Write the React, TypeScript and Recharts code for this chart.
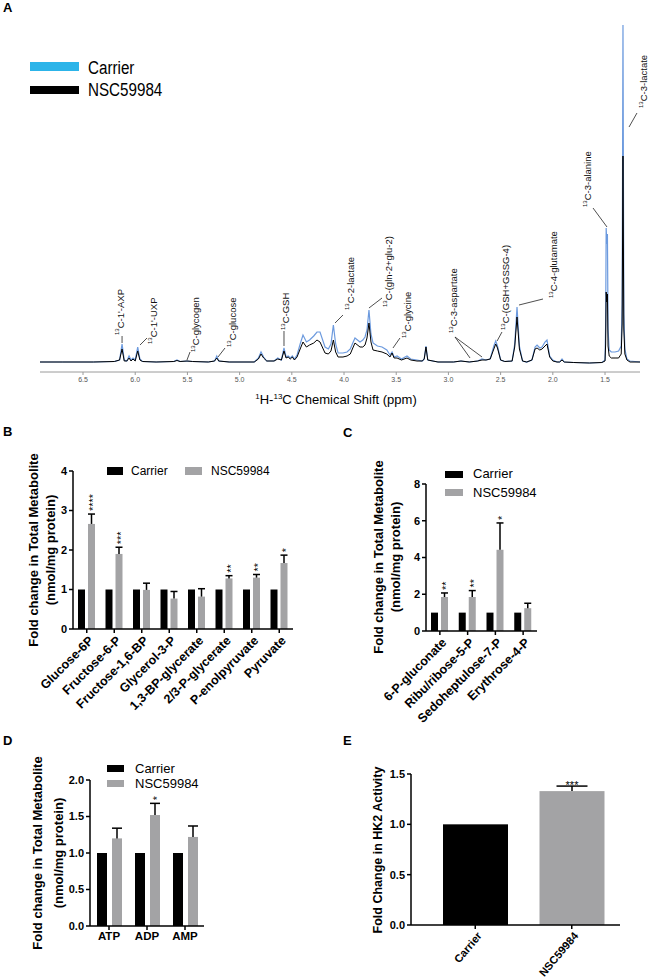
import React from "react";
import {
  LineChart,
  Line,
  BarChart,
  Bar,
  Cell,
  XAxis,
  YAxis,
  ReferenceDot,
  ReferenceLine,
} from "recharts";

const FONT = '"Liberation Sans", Arial, Helvetica, sans-serif';
const INK = "#000000";
const GREY = "#a3a3a5";
const CARRIER_TRACE = "#6c9ade";
const CARRIER_KEY = "#2cb4e9";

// ---- A: 1H-13C spectrum, [ppm, carrier, NSC59984] in arbitrary intensity units
const spectrumRows: [number, number, number][] = [
  [6.912, 2, 2], [6.7, 2, 2], [6.4, 2, 2], [6.2, 2.5, 2.5], [6.15, 4, 4],
  [6.126, 20, 15], [6.105, 4, 3], [6.08, 3, 3], [6.059, 8, 6], [6.04, 4, 3],
  [6.021, 6, 5], [6.0, 4, 3], [5.976, 17, 13], [5.955, 5, 4], [5.93, 2.5, 2.5],
  [5.8, 2, 2], [5.63, 2.5, 2.5], [5.6, 4, 3.5], [5.57, 2.5, 2.5], [5.504, 3, 3],
  [5.45, 2.5, 2.5], [5.3, 2, 2], [5.24, 3, 3], [5.219, 8, 6], [5.2, 3, 3],
  [5.1, 2, 2], [4.86, 2, 2], [4.82, 6, 5], [4.795, 12, 10], [4.77, 7, 6],
  [4.74, 3, 3], [4.67, 3, 3], [4.635, 6, 5], [4.6, 4, 4], [4.575, 16, 13],
  [4.555, 7, 6], [4.535, 8, 7], [4.515, 6, 5], [4.495, 8, 7], [4.475, 5, 4],
  [4.45, 9, 7], [4.42, 20, 15], [4.393, 29, 22], [4.36, 22, 17], [4.33, 24, 19],
  [4.29, 28, 21], [4.259, 32, 24], [4.23, 32, 22], [4.182, 17, 11], [4.15, 15, 10],
  [4.125, 20, 13], [4.102, 39, 24], [4.08, 20, 12], [4.057, 11, 7], [4.01, 11, 7],
  [3.971, 12, 8], [3.94, 15, 10], [3.92, 20, 15], [3.895, 26, 21], [3.847, 22, 17],
  [3.82, 24, 17], [3.799, 27, 19], [3.78, 34, 26], [3.761, 54, 41], [3.742, 30, 22],
  [3.722, 21, 14], [3.68, 18, 13], [3.636, 17, 12], [3.59, 14, 10], [3.56, 9, 7],
  [3.54, 12, 11], [3.52, 7, 6], [3.492, 8, 6], [3.45, 5, 4], [3.397, 8, 6],
  [3.36, 5, 4], [3.301, 4, 3], [3.25, 3, 3], [3.232, 5, 5], [3.215, 18, 17],
  [3.198, 4, 4], [3.1, 2, 2], [2.95, 2, 2], [2.88, 3, 3], [2.8, 2, 2],
  [2.72, 3, 3], [2.678, 5, 4], [2.64, 4, 4], [2.6, 5, 5], [2.565, 18, 15],
  [2.547, 23, 20], [2.53, 18, 16], [2.5, 4, 4], [2.46, 2.5, 2.5], [2.39, 3, 3],
  [2.365, 20, 17], [2.343, 57, 47], [2.32, 18, 15], [2.29, 3, 3], [2.25, 2, 2],
  [2.2, 4, 4], [2.17, 17, 15], [2.151, 19, 16], [2.125, 16, 14], [2.103, 17, 15],
  [2.075, 22, 18], [2.056, 24, 20], [2.03, 8, 7], [2.0, 4, 3], [1.96, 2, 2],
  [1.935, 2, 2], [1.912, 5, 4], [1.89, 2, 2], [1.8, 1.5, 1.5], [1.65, 1, 1],
  [1.53, 1.5, 1.5], [1.5, 4, 3], [1.494, 40, 20], [1.489, 136, 72], [1.483, 120, 62],
  [1.477, 130, 70], [1.471, 35, 18], [1.46, 14, 8], [1.44, 12, 6], [1.404, 12, 6],
  [1.37, 13, 6], [1.345, 18, 10], [1.336, 60, 40], [1.328, 339, 208], [1.32, 50, 35],
  [1.31, 15, 10], [1.29, 5, 4], [1.261, 3, 2], [1.165, 2, 2],
];
const shiftTicks = [6.5, 6.0, 5.5, 5.0, 4.5, 4.0, 3.5, 3.0, 2.5, 2.0, 1.5];

// peak annotations: name (after the 13 superscript), label foot [ppm, height], leader [ppm, h, ppm, h]
const peakNames = [
  "C-1'-AXP", "C-1'-UXP", "C-glycogen", "C-glucose", "C-GSH", "C-2-lactate",
  "C-(gln-2+glu-2)", "C-glycine", "C-3-aspartate", "C-(GSH+GSSG-4)",
  "C-4-glutamate", "C-3-alanine", "C-3-lactate",
];
const peakLabelAt: [number, number][] = [
  [6.146, 29], [5.83, 20], [5.427, 12], [5.073, 17], [4.565, 34], [3.943, 54],
  [3.579, 57], [3.397, 26], [2.956, 31], [2.458, 34], [1.998, 66], [1.672, 157],
  [1.136, 256],
];
const peakLeaders: [number, number, number, number][] = [
  [6.126, 21, 6.126, 28], [5.954, 19, 5.887, 26], [5.504, 4, 5.475, 12],
  [5.207, 7, 5.14, 16], [4.575, 18, 4.575, 33], [4.086, 41, 4.01, 49],
  [3.761, 56, 3.636, 66], [3.531, 16, 3.464, 26], [2.793, 6, 2.937, 27],
  [2.678, 7, 2.937, 27], [2.534, 23, 2.487, 32], [2.324, 59, 2.094, 65],
  [1.481, 137, 1.615, 156], [1.27, 237, 1.194, 251],
];

// ---- B: glycolysis
const glycolysisNames = [
  "Glucose-6P", "Fructose-6-P", "Fructose-1,6-BP", "Glycerol-3-P",
  "1,3-BP-glycerate", "2/3-P-glycerate", "P-enolpyruvate", "Pyruvate",
];
const glycolysisCarrier = [1, 1, 1, 1, 1, 1, 1, 1];
const glycolysisNsc = [2.66, 1.9, 0.99, 0.77, 0.82, 1.28, 1.3, 1.67];
const glycolysisSem = [0.25, 0.17, 0.17, 0.18, 0.2, 0.07, 0.08, 0.2];
const glycolysisSig = ["****", "***", "", "", "", "**", "**", "*"];

// ---- C: pentose phosphate pathway
const pppNames = ["6-P-gluconate", "Ribu/ribose-5-P", "Sedoheptulose-7-P", "Erythrose-4-P"];
const pppCarrier = [1, 1, 1, 1];
const pppNsc = [1.85, 1.85, 4.42, 1.24];
const pppSem = [0.22, 0.35, 1.46, 0.27];
const pppSig = ["**", "**", "*", ""];

// ---- D: nucleotides
const nucNames = ["ATP", "ADP", "AMP"];
const nucCarrier = [1, 1, 1];
const nucNsc = [1.2, 1.52, 1.22];
const nucSem = [0.14, 0.16, 0.15];
const nucSig = ["", "*", ""];

// ---- E: HK2 activity
const hk2Groups = ["Carrier", "NSC59984"];
const hk2Activity = [1.0, 1.33];
const hk2Sem = [0, 0.05];
const hk2Sig = ["", "***"];

const spectrum = spectrumRows.map(([ppm, carrier, nsc]) => ({ ppm, carrier, nsc }));
const grouped = (names: string[], c: number[], n: number[], s: number[], sig: string[]) =>
  names.map((name, i) => ({ name, carrier: c[i], nsc: n[i], sem: s[i], sig: sig[i] }));
const glycolysis = grouped(glycolysisNames, glycolysisCarrier, glycolysisNsc, glycolysisSem, glycolysisSig);
const ppp = grouped(pppNames, pppCarrier, pppNsc, pppSem, pppSig);
const nucleotides = grouped(nucNames, nucCarrier, nucNsc, nucSem, nucSig);
const hk2 = hk2Groups.map((name, i) => ({ name, activity: hk2Activity[i], sem: hk2Sem[i], sig: hk2Sig[i] }));

// bar with one-sided error bar and significance stars on top
function semShape(key: string, capW: number, starSize: number, flat: boolean) {
  return (p: any) => {
    const { x, y, width, height, payload, fill } = p;
    const mid = x + width / 2;
    const v = payload[key];
    const perUnit = v > 0 ? height / v : 0;
    const top = y - payload.sem * perUnit;
    return (
      <g>
        <rect x={x} y={y} width={width} height={height} fill={fill} />
        {payload.sem > 0 && (
          <g stroke={INK} strokeWidth={1.5}>
            <line x1={mid} y1={y} x2={mid} y2={top} />
            <line x1={mid - capW / 2} y1={top} x2={mid + capW / 2} y2={top} />
          </g>
        )}
        {payload.sig &&
          (flat ? (
            <text x={mid} y={top + 3} textAnchor="middle" fontSize={starSize} fontFamily={FONT} fill={INK}>
              {payload.sig}
            </text>
          ) : (
            <text
              x={mid + 2}
              y={top - 3}
              textAnchor="start"
              dominantBaseline="central"
              transform={`rotate(-90 ${mid + 2} ${top - 3})`}
              fontSize={starSize}
              fontFamily={FONT}
              fill={INK}
            >
              {payload.sig}
            </text>
          ))}
      </g>
    );
  };
}

const slantTick = (angle: number, size: number) => (p: any) => (
  <g transform={`translate(${p.x + 1},${p.y})`}>
    <text
      x={0}
      y={0}
      dy="0.72em"
      textAnchor="end"
      transform={`rotate(${angle})`}
      fontSize={size}
      fontWeight={700}
      fontFamily={FONT}
      fill={INK}
    >
      {p.payload.value}
    </text>
  </g>
);

const axisStroke = { stroke: INK, strokeWidth: 1.5 };
const yTick = { fill: INK, fontSize: 11, fontWeight: 700, fontFamily: FONT };
const one = (v: number) => v.toFixed(1);

function PeakLabel({ cx, cy, name }: any) {
  return (
    <text
      x={cx}
      y={cy}
      textAnchor="start"
      dominantBaseline="central"
      transform={`rotate(-90 ${cx} ${cy})`}
      fontSize={9.5}
      fontFamily={FONT}
      fill="#111"
    >
      <tspan fontSize={6} dy={-2.5}>13</tspan>
      <tspan dy={2.5}>{name}</tspan>
    </text>
  );
}

function Spectrum() {
  return (
    <LineChart width={650} height={420} data={spectrum} margin={{ top: 20, right: 10, bottom: 18, left: 40 }}>
      <XAxis
        type="number"
        dataKey="ppm"
        domain={[1.165, 6.912]}
        reversed
        allowDataOverflow
        ticks={shiftTicks}
        tickFormatter={one}
        tickSize={3}
        height={30}
        axisLine={{ stroke: "#9a9a9a" }}
        tickLine={{ stroke: "#9a9a9a" }}
        tick={{ fontSize: 7, fill: "#555", fontFamily: FONT }}
      />
      <YAxis hide domain={[-8, 344]} allowDataOverflow />
      <Line type="linear" dataKey="carrier" stroke={CARRIER_TRACE} strokeWidth={1.2} dot={false} isAnimationActive={false} />
      <Line type="linear" dataKey="nsc" stroke={INK} strokeWidth={1} dot={false} isAnimationActive={false} />
      {peakLeaders.map(([x1, y1, x2, y2], i) => (
        <ReferenceLine
          key={"l" + i}
          segment={[{ x: x1, y: y1 }, { x: x2, y: y2 }]}
          stroke="#222"
          strokeWidth={0.8}
          ifOverflow="visible"
        />
      ))}
      {peakNames.map((name, i) => (
        <ReferenceDot
          key={"p" + i}
          x={peakLabelAt[i][0]}
          y={peakLabelAt[i][1]}
          r={0}
          ifOverflow="visible"
          shape={(p: any) => <PeakLabel cx={p.cx} cy={p.cy} name={name} />}
        />
      ))}
    </LineChart>
  );
}

function Grouped({ data, width, height, margin, domain, ticks, fmt, barSize, barGap, capW, tick, xHeight }: any) {
  return (
    <BarChart width={width} height={height} data={data} margin={margin} barSize={barSize} barGap={barGap}>
      <XAxis dataKey="name" interval={0} height={xHeight} tickSize={4} axisLine={axisStroke} tickLine={axisStroke} tick={tick} />
      <YAxis
        width={30}
        domain={domain}
        ticks={ticks}
        tickFormatter={fmt}
        tickSize={4}
        axisLine={axisStroke}
        tickLine={axisStroke}
        tick={yTick}
      />
      <Bar dataKey="carrier" fill={INK} isAnimationActive={false} />
      <Bar dataKey="nsc" fill={GREY} isAnimationActive={false} shape={semShape("nsc", capW, 11, false)} />
    </BarChart>
  );
}

function Sup({ children }: any) {
  return <tspan fontSize={8} dy={-5}>{children}</tspan>;
}

function Overlay() {
  const letter = { fontSize: 13, fontWeight: 700, fontFamily: FONT, fill: INK };
  const key = { fontSize: 13, fontFamily: FONT, fill: INK };
  const title = { fontSize: 13, fontWeight: 700, fontFamily: FONT, fill: INK, textAnchor: "middle" as const, dominantBaseline: "central" as const };
  const vt = (x: number, y: number, s: string, size = 13) => (
    <text x={x} y={y} transform={`rotate(-90 ${x} ${y})`} {...title} fontSize={size}>{s}</text>
  );
  return (
    <svg width={650} height={979} style={{ position: "absolute", left: 0, top: 0, pointerEvents: "none" }}>
      <text x={3} y={12} {...letter}>A</text>
      <text x={3} y={436} {...letter}>B</text>
      <text x={343} y={437} {...letter}>C</text>
      <text x={3} y={745} {...letter}>D</text>
      <text x={343} y={745} {...letter}>E</text>

      {/* A legend */}
      <rect x={30} y={62} width={49} height={9} fill={CARRIER_KEY} />
      <rect x={30} y={86} width={49} height={8} fill={INK} />
      <text transform="translate(88,74) scale(0.8,1)" fontSize={19} fontFamily={FONT} fill={INK}>Carrier</text>
      <text transform="translate(88,96) scale(0.8,1)" fontSize={19} fontFamily={FONT} fill={INK}>NSC59984</text>

      {/* A axis title */}
      <text x={336} y={404} textAnchor="middle" fontSize={13} fontFamily={FONT} fill={INK}>
        <Sup>1</Sup>
        <tspan dy={5}>H-</tspan>
        <Sup>13</Sup>
        <tspan dy={5}>C Chemical Shift (ppm)</tspan>
      </text>

      {/* B legend + title */}
      <rect x={107} y={467} width={16} height={8} fill={INK} />
      <text x={131} y={475} {...key} fontSize={12}>Carrier</text>
      <rect x={185} y={467} width={17} height={8} fill={GREY} />
      <text x={211} y={475} {...key} fontSize={12}>NSC59984</text>
      {vt(33, 550, "Fold change in Total Metabolite")}
      {vt(50, 550, "(nmol/mg protein)")}

      {/* C legend + title */}
      <rect x={445} y={471} width={18} height={7} fill={INK} />
      <text x={473} y={478} {...key}>Carrier</text>
      <rect x={445} y={489} width={18} height={7} fill={GREY} />
      <text x={473} y={497} {...key}>NSC59984</text>
      {vt(378, 557, "Fold change in Total Metabolite")}
      {vt(395, 557, "(nmol/mg protein)")}

      {/* D legend + title */}
      <rect x={107} y={765} width={17} height={7} fill={INK} />
      <text x={135} y={773} {...key}>Carrier</text>
      <rect x={107} y={780} width={17} height={7} fill={GREY} />
      <text x={135} y={788} {...key}>NSC59984</text>
      {vt(37, 853, "Fold change in Total Metabolite")}
      {vt(58, 853, "(nmol/mg protein)")}

      {/* E title */}
      {vt(378, 850, "Fold Change in HK2 Activity", 12.5)}
    </svg>
  );
}

export default function App() {
  const box = (left: number, top: number): React.CSSProperties => ({ position: "absolute", left, top });
  return (
    <div style={{ position: "absolute", left: 0, top: 0, width: 650, height: 979, background: "#fff", overflow: "hidden" }}>
      <div style={box(0, 0)}>
        <Spectrum />
      </div>
      <div style={box(0, 440)}>
        <Grouped
          data={glycolysis}
          width={330}
          height={300}
          margin={{ top: 31, right: 37, bottom: 31, left: 43 }}
          domain={[0, 4]}
          ticks={[0, 1, 2, 3, 4]}
          barSize={7}
          barGap={3}
          capW={7}
          xHeight={80}
          tick={slantTick(-45, 12.5)}
        />
      </div>
      <div style={box(330, 440)}>
        <Grouped
          data={ppp}
          width={320}
          height={300}
          margin={{ top: 44, right: 113, bottom: 29, left: 66 }}
          domain={[0, 8]}
          ticks={[0, 2, 4, 6, 8]}
          barSize={7}
          barGap={3}
          capW={7}
          xHeight={80}
          tick={slantTick(-45, 12.5)}
        />
      </div>
      <div style={box(0, 720)}>
        <Grouped
          data={nucleotides}
          width={330}
          height={259}
          margin={{ top: 60, right: 126, bottom: 23, left: 60 }}
          domain={[0, 2]}
          ticks={[0, 0.5, 1, 1.5, 2]}
          fmt={one}
          barSize={10}
          barGap={5}
          capW={10}
          xHeight={30}
          tick={{ fill: INK, fontSize: 11.5, fontWeight: 700, fontFamily: FONT }}
        />
      </div>
      <div style={box(330, 720)}>
        <BarChart width={320} height={259} data={hk2} margin={{ top: 54, right: 30, bottom: 4, left: 46 }} barSize={65}>
          <XAxis
            dataKey="name"
            interval={0}
            height={50}
            padding={{ left: 16, right: 0 }}
            tickSize={4}
            axisLine={axisStroke}
            tickLine={axisStroke}
            tick={slantTick(-50, 11)}
          />
          <YAxis
            width={35}
            domain={[0, 1.5]}
            ticks={[0, 0.5, 1, 1.5]}
            tickFormatter={one}
            tickSize={4}
            axisLine={axisStroke}
            tickLine={axisStroke}
            tick={yTick}
          />
          <Bar dataKey="activity" isAnimationActive={false} shape={semShape("activity", 31, 11, true)}>
            {hk2.map((d, i) => (
              <Cell key={d.name} fill={i === 0 ? INK : GREY} />
            ))}
          </Bar>
        </BarChart>
      </div>
      <Overlay />
    </div>
  );
}
